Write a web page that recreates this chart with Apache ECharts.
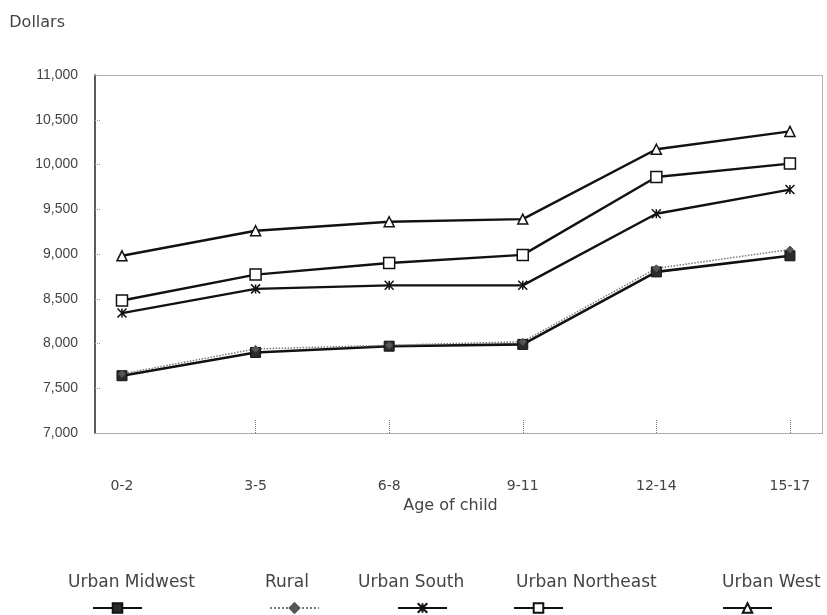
<!DOCTYPE html>
<html>
<head>
<meta charset="utf-8">
<script src="https://cdn.jsdelivr.net/npm/echarts@6/dist/echarts.min.js"></script>
<style>
  html, body { margin: 0; padding: 0; background: #fff; }
  #chart { width: 827px; height: 615px; }
</style>
</head>
<body>
<div id="chart"></div>
<script>
// Age-of-child groups along the x axis
const ageGroups = ['0-2', '3-5', '6-8', '9-11', '12-14', '15-17'];

// Annual expenditures on a child, dollars
const urbanMidwest   = [7640, 7900, 7970, 7990, 8800, 8980];
const rural          = [7660, 7940, 7980, 8020, 8840, 9050];
const urbanSouth     = [8340, 8610, 8650, 8650, 9450, 9720];
const urbanNortheast = [8480, 8770, 8900, 8990, 9860, 10010];
const urbanWest      = [8980, 9260, 9360, 9390, 10170, 10370];

// Y axis range and step
const yMin = 7000, yMax = 11000, yStep = 500;

const legendNames = ['Urban Midwest', 'Rural', 'Urban South', 'Urban Northeast', 'Urban West'];

const SANS = '"Liberation Sans", Arial, sans-serif';
const WIDE = '"DejaVu Sans", sans-serif';
const TEXT = '#444';
const INK = '#111';

// Open cross used for the Urban South markers
const crossPath = 'path://M0,0 L10,10 M10,0 L0,10 M5,0 L5,10';

function pairs(values) {
  return values.map((v, i) => [i, v]);
}

const seriesDefs = [
  { name: 'Urban Midwest', data: urbanMidwest, symbol: 'rect', symbolSize: 10,
    line: { color: INK, width: 2.6 }, item: { color: '#2a2a2a', borderColor: INK, borderWidth: 1 } },
  { name: 'Urban South', data: urbanSouth, symbol: crossPath, symbolSize: 9,
    line: { color: INK, width: 2.4 }, item: { color: '#fff', borderColor: INK, borderWidth: 1.5 } },
  { name: 'Urban Northeast', data: urbanNortheast, symbol: 'rect', symbolSize: 11,
    line: { color: INK, width: 2.4 }, item: { color: '#fff', borderColor: INK, borderWidth: 1.5 } },
  { name: 'Urban West', data: urbanWest, symbol: 'triangle', symbolSize: 10,
    line: { color: INK, width: 2.4 }, item: { color: '#fff', borderColor: INK, borderWidth: 1.5 } },
  { name: 'Rural', data: rural, symbol: 'diamond', symbolSize: 7,
    line: { color: '#777', width: 1.5, type: 'dotted' }, item: { color: '#555', borderColor: '#555', borderWidth: 1 } }
];

const series = seriesDefs.map(d => ({
  name: d.name,
  type: 'line',
  data: pairs(d.data),
  symbol: d.symbol,
  symbolSize: d.symbolSize,
  showAllSymbol: true,
  lineStyle: d.line,
  itemStyle: d.item,
  xAxisIndex: 0,
  yAxisIndex: 0,
  z: 3
}));

// Legend: names on one row, line samples on the row beneath
const textLeft = [57, 254, 347, 505, 711];
const iconLeft = [87, 264, 392, 508, 717];

const legends = [];
legendNames.forEach((name, i) => {
  legends.push({
    data: [name],
    left: textLeft[i],
    top: 569,
    itemWidth: 0,
    itemHeight: 0,
    icon: 'rect',
    selectedMode: false,
    textStyle: { fontFamily: WIDE, fontSize: 17, color: TEXT }
  });
  legends.push({
    data: [name],
    left: iconLeft[i],
    top: 597,
    itemWidth: 49,
    itemHeight: 12,
    selectedMode: false,
    formatter: () => '',
    textStyle: { fontSize: 1 }
  });
});

const catIndex = ageGroups.map((_, i) => i);
const tickIndex = catIndex.slice(1);

const option = {
  backgroundColor: '#fff',
  animation: false,
  grid: { left: 95, right: 5, top: 75, bottom: 182 },
  legend: legends,
  xAxis: [
    {
      type: 'value',
      min: -0.202,
      max: 5.24,
      name: 'Age of child',
      nameLocation: 'middle',
      nameGap: 64,
      nameTextStyle: { fontFamily: WIDE, fontSize: 16, color: TEXT, padding: [0, 16, 0, 0] },
      axisLine: { show: true, onZero: false, lineStyle: { color: '#9a9a9a', type: 'dotted', width: 1 } },
      axisTick: { show: true, inside: true, length: 14, customValues: tickIndex,
                  lineStyle: { color: '#777', type: 'dotted', width: 1 } },
      axisLabel: { customValues: catIndex, margin: 46, fontFamily: WIDE, fontSize: 14, color: TEXT,
                   formatter: v => ageGroups[Math.round(v)] },
      splitLine: { show: false }
    },
    {
      type: 'value',
      position: 'top',
      min: -0.202,
      max: 5.24,
      axisLine: { show: true, onZero: false, lineStyle: { color: '#a0a0a0', type: 'dotted', width: 1 } },
      axisTick: { show: false },
      axisLabel: { show: false },
      splitLine: { show: false }
    }
  ],
  yAxis: [
    {
      type: 'value',
      min: yMin,
      max: yMax,
      interval: yStep,
      name: 'Dollars',
      nameLocation: 'end',
      nameGap: 44,
      nameTextStyle: { fontFamily: WIDE, fontSize: 16, color: TEXT, align: 'right', padding: [0, 30, 0, 0] },
      axisLine: { show: true, onZero: false, lineStyle: { color: '#333', width: 1.6 } },
      axisTick: { show: true, inside: true, length: 5, lineStyle: { color: '#999', type: 'dotted' } },
      axisLabel: { margin: 17, fontFamily: SANS, fontSize: 14, color: TEXT,
                   formatter: v => v.toLocaleString('en-US') },
      splitLine: { show: false }
    },
    {
      type: 'value',
      position: 'right',
      min: yMin,
      max: yMax,
      interval: yStep,
      axisLine: { show: true, onZero: false, lineStyle: { color: '#a0a0a0', type: 'dotted', width: 1 } },
      axisTick: { show: false },
      axisLabel: { show: false },
      splitLine: { show: false }
    }
  ],
  series: series
};

const chart = echarts.init(document.getElementById('chart'), null, { renderer: 'canvas' });
chart.setOption(option);
</script>
</body>
</html>
